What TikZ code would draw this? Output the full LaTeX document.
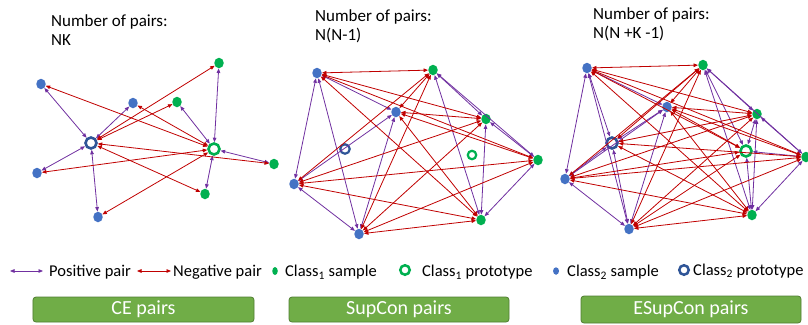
\documentclass[tikz,border=0pt]{standalone}
\usepackage{fontspec}
\setmainfont{Carlito}
\usetikzlibrary{arrows.meta,graphs,shapes.geometric}
\definecolor{pospurple}{HTML}{7030A0}
\definecolor{negred}{HTML}{C00000}
\definecolor{cblue}{HTML}{4472C4}
\definecolor{cgreen}{HTML}{00B050}
\definecolor{protoblue}{HTML}{2F5597}
\definecolor{boxgreen}{HTML}{70AD47}
\definecolor{boxedge}{HTML}{507E32}

\begin{document}
\begin{tikzpicture}[x=1bp,y=-1bp,>={Triangle[length=4.5bp,width=3.6bp]}]
  \tikzset{bsamp/.style={ellipse, fill=cblue, inner sep=0,
      minimum width=9.5bp, minimum height=10.5bp},
    gsamp/.style={ellipse, fill=cgreen, inner sep=0,
      minimum width=9.5bp, minimum height=10.5bp},
    bproto/.style={circle, draw=protoblue, line width=2.6bp, inner sep=0,
      minimum size=11bp},
    gproto/.style={circle, draw=cgreen, line width=2.6bp, inner sep=0,
      minimum size=11bp},
    posedge/.style={pospurple, line width=0.8bp},
    negedge/.style={negred, line width=0.8bp},
    title/.style={anchor=base west, inner sep=0,
      font=\fontsize{17bp}{19bp}\selectfont},
    legtext/.style={anchor=base west, inner sep=0,
      font=\fontsize{16.5bp}{19bp}\selectfont},
    pairbox/.style={draw=boxedge, fill=boxgreen, rounded corners=3bp,
      line width=0.8bp, minimum width=221bp, minimum height=25bp,
      text=white, font=\fontsize{20bp}{24bp}\selectfont}}
  \useasboundingbox (0,0) rectangle (808,324);
  % CE
  \node[title] (t1) at (51,26) {\begin{tabular}[t]{@{}l@{}}Number of pairs:\\NK\end{tabular}};
  \node[bsamp] (b1) at (41,84) {};
  \node[bsamp] (b2) at (133,103) {};
  \node[bsamp] (b3) at (37,173) {};
  \node[bsamp] (b4) at (98,217) {};
  \node[gsamp] (g1) at (219,63) {};
  \node[gsamp] (g2) at (177,102) {};
  \node[gsamp] (g3) at (274,164) {};
  \node[gsamp] (g4) at (205,194) {};
  \node[bproto] (bp) at (91,143) {};
  \node[gproto] (gp) at (214,149) {};
      \graph[use existing nodes] {
        bp <->[posedge] {b1, b2, b3, b4};
        gp <->[posedge] {g1, g2, g3, g4};
        bp <->[negedge] {g1, g2, g3, g4};
        gp <->[negedge] {b1, b2, b3, b4};
      };
  % SupCon
  \node[title] (t2) at (315,21) {\begin{tabular}[t]{@{}l@{}}Number of pairs:\\N(N-1)\end{tabular}};
  \node[bsamp] (b1) at (317,73) {};
  \node[bsamp] (b2) at (396,112) {};
  \node[bsamp] (b3) at (294,184) {};
  \node[bsamp] (b4) at (359,234) {};
  \node[gsamp] (g1) at (433,70) {};
  \node[gsamp] (g2) at (486,119) {};
  \node[gsamp] (g3) at (538,160) {};
  \node[gsamp] (g4) at (481,220) {};
  \node[bproto, line width=2.2bp, minimum size=9.5bp] (bp) at (345,149) {};
  \node[gproto, line width=2.2bp, minimum size=8.5bp] (gp) at (472,155) {};
      \graph[use existing nodes] {
        b1 <->[posedge] {b2, b3, b4};
        b2 <->[posedge] {b3, b4};
        b3 <->[posedge] b4;
        g1 <->[posedge] {g2, g3, g4};
        g2 <->[posedge] {g3, g4};
        g3 <->[posedge] g4;
        b1 <->[negedge] {g1, g2, g3, g4};
        b2 <->[negedge] {g1, g2, g3, g4};
        b3 <->[negedge] {g1, g2, g3, g4};
        b4 <->[negedge] {g1, g2, g3, g4};
      };
  % ESupCon
  \node[title] (t3) at (593,19) {\begin{tabular}[t]{@{}l@{}}Number of pairs:\\N(N +K -1)\end{tabular}};
  \node[bsamp] (b1) at (587,68) {};
  \node[bsamp] (b2) at (667,107) {};
  \node[bsamp] (b3) at (565,179) {};
  \node[bsamp] (b4) at (629,229) {};
  \node[gsamp] (g1) at (703,65) {};
  \node[gsamp] (g2) at (757,114) {};
  \node[gsamp] (g3) at (806,157) {};
  \node[gsamp] (g4) at (752,215) {};
  \node[bproto] (bp) at (612,143) {};
  \node[gproto, fill=white] (gp) at (746,151) {};
      \graph[use existing nodes] {
        b1 <->[posedge] {b2, b3, b4, bp};
        b2 <->[posedge] {b3, b4, bp};
        b3 <->[posedge] {b4, bp};
        b4 <->[posedge] bp;
        g1 <->[posedge] {g2, g3, g4, gp};
        g2 <->[posedge] {g3, g4, gp};
        g3 <->[posedge] {g4, gp};
        g4 <->[posedge] gp;
        b1 <->[negedge] {g1, g2, g3, g4, gp};
        b2 <->[negedge] {g1, g2, g3, g4, gp};
        b3 <->[negedge] {g1, g2, g3, g4, gp};
        b4 <->[negedge] {g1, g2, g3, g4, gp};
        bp <->[negedge] {g1, g2, g3, g4};
      };
  % legend
  \coordinate (pl) at (10,271);
  \coordinate (pr) at (43,271);
  \draw[posedge,<->] (pl) -- (pr);
  \node[legtext] (lpos) at (49,276.5) {Positive pair};
  \coordinate (nl) at (137,271);
  \coordinate (nr) at (171,271);
  \draw[negedge,<->] (nl) -- (nr);
  \node[legtext] (lneg) at (173,276.5) {Negative pair};
  \node[gsamp, minimum width=5.5bp, minimum height=8bp] (lg) at (275,271) {};
  \node[legtext] (lgs) at (285,276.5) {Class\textsubscript{1} sample};
  \node[gproto, line width=2.5bp, minimum size=9.5bp] (lgp) at (405,270) {};
  \node[legtext] (lgpt) at (422,276.5) {Class\textsubscript{1} prototype};
  \node[bsamp, minimum width=6bp, minimum height=7.5bp] (lb) at (556,271) {};
  \node[legtext] (lbs) at (567,276.5) {Class\textsubscript{2} sample};
  \node[bproto, line width=2.5bp, minimum size=9.5bp] (lbp) at (684,270) {};
  \node[legtext] (lbpt) at (693,275) {Class\textsubscript{2} prototype};
  % boxes
  \node[pairbox] (ce) at (143.5,309.5) {CE pairs};
  \node[pairbox, minimum width=220bp] (sc) at (399,309.5) {SupCon pairs};
  \node[pairbox, minimum width=220bp, minimum height=27bp] (esc) at (691,309.5) {ESupCon pairs};
\end{tikzpicture}
\end{document}
